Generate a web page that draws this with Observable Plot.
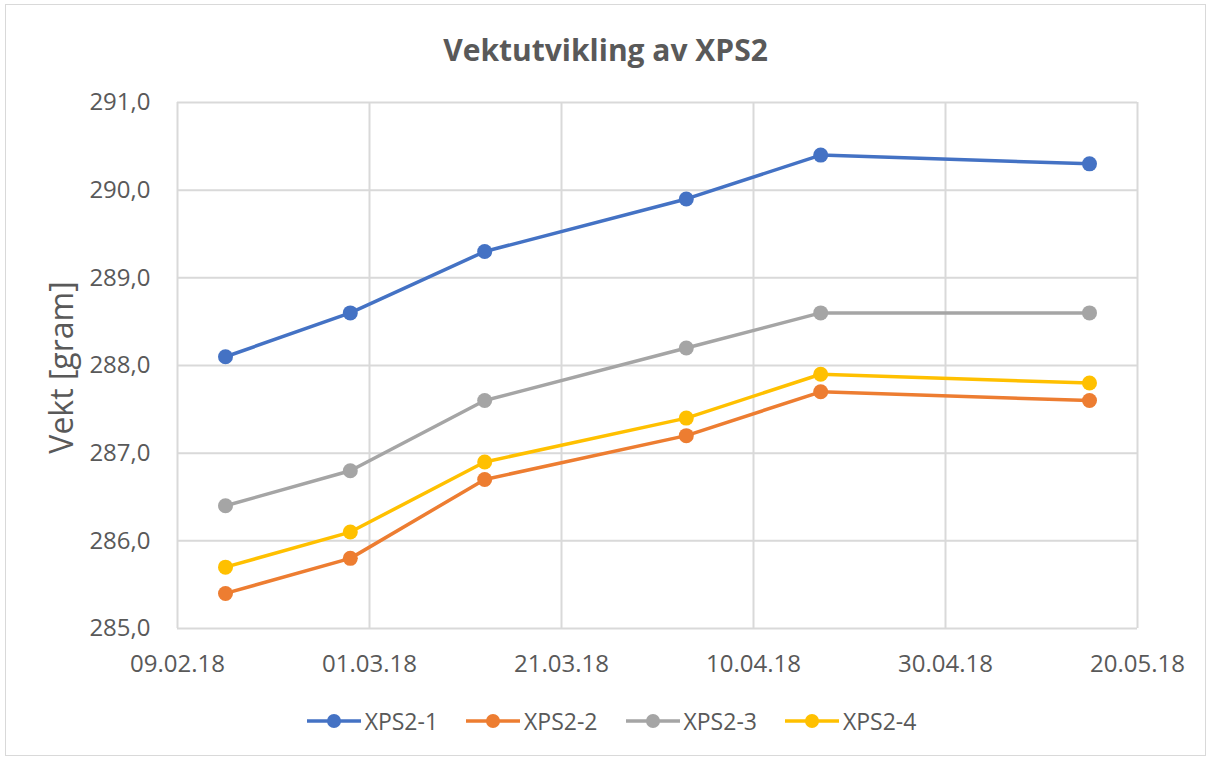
<!DOCTYPE html>
<html>
<head>
<meta charset="utf-8">
<script src="https://cdn.jsdelivr.net/npm/d3@7"></script>
<script src="https://cdn.jsdelivr.net/npm/@observablehq/plot@0.6"></script>
<style>
  html, body { margin: 0; padding: 0; background: #fff; }
  #wrap { position: relative; width: 1211px; height: 758px; background: #fff; font-family: "Open Sans", sans-serif; color: #595959; overflow: hidden; }
  #border { position: absolute; left: 5px; top: 4px; width: 1201px; height: 752px; border: 1px solid #d9d9d9; box-sizing: border-box; pointer-events: none; }
  #title { position: absolute; left: 0; top: 28px; width: 1211px; height: 44px; line-height: 44px; text-align: center; font-weight: bold; font-size: 30px; }
  #chart { position: absolute; left: 0; top: 80px; }
  #legend { position: absolute; left: 12px; top: 704px; width: 1199px; height: 34px; display: flex; justify-content: center; align-items: center; font-size: 23px; }
  .item { display: flex; align-items: center; margin: 0 14px; }
  .item svg { margin-right: 4px; }
</style>
</head>
<body>
<div id="wrap">
  <div id="title">Vektutvikling av XPS2</div>
  <div id="chart"></div>
  <div id="legend"></div>
  <div id="border"></div>
</div>
<script>
const dates = ["2018-02-14", "2018-02-27", "2018-03-13", "2018-04-03", "2018-04-17", "2018-05-15"];
const seriesNames = ["XPS2-1", "XPS2-2", "XPS2-3", "XPS2-4"];
const xps2_1 = [288.1, 288.6, 289.3, 289.9, 290.4, 290.3];
const xps2_2 = [285.4, 285.8, 286.7, 287.2, 287.7, 287.6];
const xps2_3 = [286.4, 286.8, 287.6, 288.2, 288.6, 288.6];
const xps2_4 = [285.7, 286.1, 286.9, 287.4, 287.9, 287.8];
const colors = ["#4472C4", "#ED7D31", "#A5A5A5", "#FFC000"];
const xTickLabels = ["2018-02-09", "2018-03-01", "2018-03-21", "2018-04-10", "2018-04-30", "2018-05-20"];
const yTicks = [285, 286, 287, 288, 289, 290, 291];

const parse = d3.utcParse("%Y-%m-%d");
const xTicks = xTickLabels.map(parse);
const allValues = [xps2_1, xps2_2, xps2_3, xps2_4];
const table = [];
seriesNames.forEach((s, i) => {
  dates.forEach((d, j) => table.push({ series: s, date: parse(d), value: allValues[i][j] }));
});

const marks = [
  Plot.ruleX(xTicks, { stroke: "#d9d9d9", strokeWidth: 2 }),
  Plot.ruleY(yTicks, { stroke: "#d9d9d9", strokeWidth: 2 }),
  Plot.text(["Vekt [gram]"], { frameAnchor: "left", textAnchor: "middle", dx: -115, dy: 2, rotate: -90, fontSize: 32, fill: "#595959" })
];
seriesNames.forEach((s) => {
  const rows = table.filter(r => r.series === s);
  marks.push(Plot.line(rows, { x: "date", y: "value", stroke: "series", strokeWidth: 3.5 }));
  marks.push(Plot.dot(rows, { x: "date", y: "value", fill: "series", r: 7.5 }));
});

const chart = Plot.plot({
  width: 1211,
  height: 610,
  marginLeft: 177,
  marginRight: 74,
  marginTop: 22,
  marginBottom: 62,
  style: { fontFamily: "Open Sans, sans-serif", fontSize: "24px", color: "#595959", background: "transparent" },
  x: { type: "utc", domain: [xTicks[0], xTicks[xTicks.length - 1]], ticks: xTicks, tickFormat: d3.utcFormat("%d.%m.%y"), tickSize: 0, tickPadding: 26, label: null },
  y: { domain: [285, 291], ticks: yTicks, tickFormat: d => d.toFixed(1).replace(".", ","), tickSize: 0, tickPadding: 27, label: null },
  color: { domain: seriesNames, range: colors },
  marks
});
document.getElementById("chart").appendChild(chart);

const legend = document.getElementById("legend");
seriesNames.forEach((s, i) => {
  const item = document.createElement("div");
  item.className = "item";
  item.innerHTML = `<svg width="54" height="16"><line x1="0" y1="8" x2="54" y2="8" stroke="${colors[i]}" stroke-width="3.5"/><circle cx="27" cy="8" r="7" fill="${colors[i]}"/></svg><span>${s}</span>`;
  legend.appendChild(item);
});
</script>
</body>
</html>
